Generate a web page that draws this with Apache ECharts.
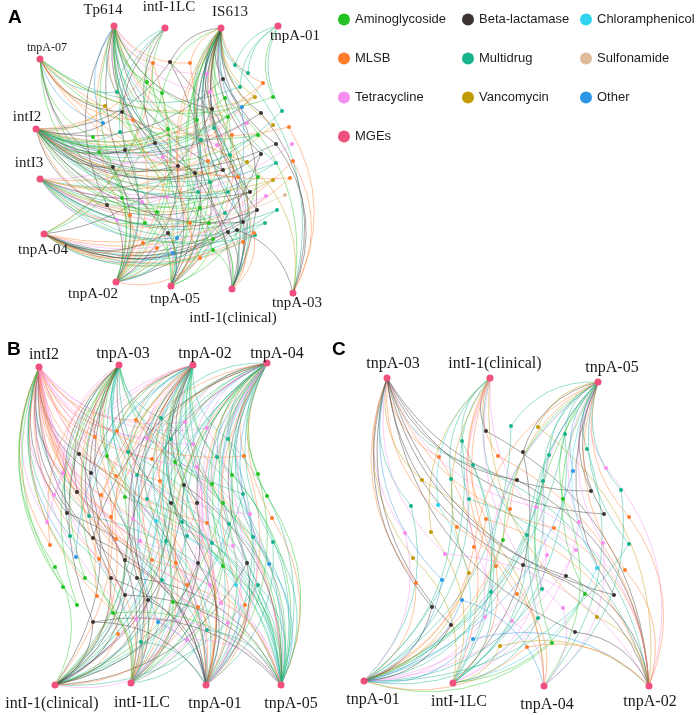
<!DOCTYPE html>
<html>
<head>
<meta charset="utf-8">
<script src="https://cdn.jsdelivr.net/npm/echarts@6/dist/echarts.min.js"></script>
<style>
html,body{margin:0;padding:0;background:#fff}
#main{width:699px;height:715px}
</style>
</head>
<body>
<div id="main"></div>
<script>
// gene / MGE types (legend order)
var types = ['Aminoglycoside','Beta-lactamase','Chloramphenicol','MLSB','Multidrug','Sulfonamide','Tetracycline','Vancomycin','Other','MGEs'];
var typeColors = ['#22c322','#3b3330','#2fd3ef','#ff7b2c','#17b38c','#dfba98','#f68cf0','#c29a04','#2c96e6','#ef507d'];

// ---- panel A ----
var mgeA = ['Tp614','intI-1LC','IS613','tnpA-01','tnpA-07','intI2','intI3','tnpA-04','tnpA-02','tnpA-05','intI-1(clinical)','tnpA-03'];
var mgeA_xy = [[114,26],[165,28],[221,28],[278,26],[40,59],[36,129],[40,179],[44,234],[116,282],[171,286],[232,289],[293,293]];
// [x, y, type, linked MGEs]
var genesA = [
  [170,62,1,[2,5,9,10]],[190,63,3,[2,0,8]],[153,63,3,[0,5,8,7]],[235,65,4,[2,3,11]],[248,73,4,[2,3]],
  [207,74,6,[2,0,9]],[223,79,1,[2,10,5]],[263,83,3,[5,2,6]],[240,87,4,[2,3,4]],[210,92,6,[0,2,8,6]],
  [225,98,0,[2,5,9,11]],[255,97,7,[5,2,4]],[273,97,0,[4,3]],[242,107,8,[2,5,9]],[212,109,1,[0,2,10,7]],
  [261,113,1,[5,2,11]],[282,111,4,[6,3]],[228,117,0,[2,0,8,5]],[247,123,6,[5,2]],[273,125,7,[6,2]],
  [289,127,3,[4,11]],[197,120,0,[0,2,9,5]],[168,129,0,[0,5,8,1]],[214,128,4,[2,5,10]],[232,135,3,[2,6,9]],
  [258,135,0,[5,4]],[276,144,1,[5,11,2]],[292,144,6,[6]],[217,145,6,[5,0,10]],[155,143,1,[0,5,9,1]],
  [125,150,1,[5,1,8]],[201,140,4,[0,2,8,5]],[230,155,4,[5,2,10]],[261,154,1,[6,2,8]],[293,161,3,[7,11]],
  [276,163,4,[6,5,2]],[247,162,7,[5,0,11]],[208,161,3,[5,2,9]],[178,166,1,[0,5,8]],[223,170,1,[5,2,10,0]],
  [195,173,1,[0,5,9]],[258,177,0,[6,2,9]],[273,180,7,[6,5]],[290,178,3,[7,4]],[238,177,3,[4,2,10]],
  [210,182,4,[5,0,9,2]],[250,192,1,[6,5,2]],[266,196,6,[7,6]],[285,195,5,[6]],[228,192,4,[5,2,10]],
  [198,192,4,[0,5,8]],[167,197,6,[5,6,9]],[107,205,1,[5,0,8]],[142,202,6,[5,4,9]],[122,198,0,[4,8]],
  [257,210,1,[6,7,2]],[277,210,4,[7,6]],[243,222,1,[7,5,2]],[265,223,4,[7,6]],[225,213,4,[6,2,10]],
  [200,208,0,[5,0,8,10]],[157,212,0,[5,4,9]],[130,215,3,[5,8]],[145,223,0,[6,0,9]],[190,223,3,[6,2,9]],
  [209,223,0,[5,0,10]],[228,232,1,[7,2,10]],[255,235,4,[7,6]],[177,238,8,[6,8]],[143,243,3,[7,0]],
  [213,239,0,[6,2,9]],[243,242,3,[7,10]],[105,106,7,[4,5,9]],[103,123,8,[4,0]],[122,112,1,[4,5,10]],
  [133,120,3,[4,0,8]],[117,92,4,[4,0,9,1]],[120,132,4,[5,1,8]],[162,93,0,[0,2,8,7]],[147,82,0,[0,1,9,7]],
  [117,220,6,[6,8]],[168,233,1,[7,0,9]],[173,253,8,[7,9]],[157,248,3,[7,8]],[213,250,0,[7,2,10]],
  [200,258,3,[8,2]],[113,167,1,[5,4,8]],[93,137,0,[4,8]],[99,152,0,[5,8,9]],[163,157,6,[0,5,10]],
  [237,230,1,[7,11]],[254,233,3,[7,10]]
];

// ---- panel B ----
var mgeB = ['intI2','tnpA-03','tnpA-02','tnpA-04','intI-1(clinical)','intI-1LC','tnpA-01','tnpA-05'];
var mgeB_xy = [[39,367],[119,365],[193,365],[267,363],[55,685],[131,683],[206,685],[281,685]];
var genesB = [
  [136,420,3,[0,2,6,7]],[161,418,4,[1,3,7,4]],[185,422,6,[0,3,5]],[207,428,6,[0,3,6,4]],[117,431,3,[0,2,5]],
  [95,437,3,[0,1,4]],[147,438,6,[0,2,7]],[171,439,4,[1,3,6,4]],[193,444,6,[0,3,5]],[228,439,4,[2,3,6,7]],
  [128,452,4,[1,2,4,7]],[79,454,1,[0,4,6]],[107,456,0,[1,2,5]],[152,459,3,[0,3,6]],[175,462,0,[2,3,4,7]],
  [197,467,6,[0,2,5,7]],[217,457,4,[2,3,7]],[244,456,3,[3,0,6]],[91,473,1,[0,2,5]],[63,473,6,[0,1]],
  [116,476,3,[0,1,6]],[137,475,4,[1,3,4,7]],[160,481,3,[0,2,5,6]],[184,485,1,[2,4,7]],[212,484,0,[3,1,6]],
  [232,475,0,[3,2,7,5]],[258,474,0,[3,6]],[77,492,1,[0,1,5]],[54,495,6,[0,2]],[101,495,3,[0,3,6]],
  [125,497,0,[1,2,4,7]],[147,499,4,[2,3,5,7]],[171,503,1,[1,4,6]],[197,503,1,[2,3,5]],[223,503,0,[3,2,4,7]],
  [243,494,4,[3,1,6,4]],[267,496,0,[3,7]],[67,513,1,[0,1,6]],[89,516,4,[0,2,7]],[111,517,3,[0,3,5]],
  [133,519,6,[0,2,6]],[156,521,2,[1,3,4,7]],[182,522,4,[2,3,5,7]],[207,523,3,[0,3,6]],[229,524,4,[2,3,4,7]],
  [250,514,6,[3,0,6]],[272,518,3,[3,7]],[47,522,6,[0,2]],[70,536,4,[0,1,5]],[93,538,1,[0,3,6]],
  [116,539,3,[0,2,4]],[140,541,6,[0,3,7]],[166,541,4,[1,2,5,6]],[187,536,4,[2,3,4,7]],[212,543,4,[1,3,5,7]],
  [233,546,6,[0,3,6]],[253,537,4,[3,2,7]],[273,542,4,[3,7,6]],[50,545,3,[0,1]],[76,557,8,[0,2]],
  [99,559,3,[0,1,5]],[125,560,1,[1,3,4,6]],[152,560,3,[0,2,7]],[176,563,3,[0,3,5]],[198,563,1,[2,4,6]],
  [223,566,0,[2,3,5,7]],[247,563,1,[3,4,6]],[269,564,8,[3,7]],[55,567,0,[0,4]],[85,578,0,[1,0,5]],
  [111,578,1,[1,4,6]],[137,578,1,[0,2,5,7]],[162,580,4,[1,3,4,6]],[187,585,3,[0,2,7]],[210,585,6,[0,3,5]],
  [236,585,2,[3,2,6]],[258,585,4,[3,7,4]],[63,587,0,[0]],[97,596,3,[0,5,2]],[125,595,1,[1,4,7]],
  [148,600,1,[2,4,6]],[173,602,0,[3,5,7]],[198,607,3,[0,4,6]],[221,603,6,[0,3,7]],[245,605,3,[3,6]],
  [77,605,0,[0,1]],[113,613,0,[1,5,7]],[158,622,8,[2,6]],[93,622,1,[1,4,6,7]],[136,619,6,[0,5,7]],
  [228,623,6,[0,3,6]],[118,634,3,[2,4]],[141,642,4,[3,5,6]],[187,640,6,[0,4,7]],[207,630,4,[2,5,7]]
];

// ---- panel C ----
var mgeC = ['tnpA-03','intI-1(clinical)','tnpA-05','tnpA-01','intI-1LC','tnpA-04','tnpA-02'];
var mgeC_xy = [[387,378],[490,378],[598,382],[364,681],[453,683],[544,686],[649,686]];
var genesC = [
  [486,431,1,[1,6]],[511,426,4,[2,3]],[538,427,7,[2,6]],[565,434,4,[2,3,4]],[587,449,4,[2,5]],
  [462,441,4,[1,3,4]],[439,457,3,[0,4]],[498,456,3,[1,6]],[523,452,1,[2,4]],[549,455,4,[2,3]],
  [473,465,4,[0,4,6]],[573,471,8,[2,3]],[606,468,6,[2,6]],[422,480,7,[0,5]],[451,479,4,[1,3]],
  [517,480,1,[0,6]],[543,481,4,[2,4,3]],[591,491,1,[0,2]],[621,490,4,[2,5]],[469,499,4,[1,3,6]],
  [563,499,0,[2,5]],[411,506,4,[0,3]],[438,505,2,[1,4]],[510,509,3,[2,3]],[536,507,6,[0,6]],
  [604,514,1,[0,2]],[629,517,3,[2,6]],[486,519,3,[1,6,3]],[579,522,6,[2,4]],[405,533,6,[0,3]],
  [431,532,7,[1,4]],[457,527,3,[0,5]],[503,540,0,[2,3]],[527,535,4,[1,4,3]],[554,528,3,[0,6]],
  [603,543,6,[2,5]],[629,544,4,[3,2]],[445,554,6,[0,6]],[474,547,3,[2,3]],[576,550,6,[1,3]],
  [413,558,7,[0,4]],[523,565,1,[0,6]],[496,566,3,[1,4]],[547,555,6,[2,3,4]],[597,568,2,[2,4]],
  [625,570,3,[6,2]],[469,573,7,[1,3]],[566,576,1,[0,6]],[442,580,8,[0,3]],[416,583,3,[0,3]],
  [491,592,4,[2,4,3]],[517,594,3,[1,5]],[542,589,4,[2,3]],[585,594,0,[2,4]],[614,595,1,[0,2]],
  [462,600,8,[3,5]],[563,608,6,[1,5]],[432,607,1,[0,3]],[485,617,6,[2,3]],[512,621,6,[1,5]],
  [538,618,4,[2,3,4]],[597,617,7,[6,1]],[451,625,1,[0,3]],[575,632,1,[0,6]],[473,639,8,[3,6]],
  [552,643,0,[2,3]],[500,646,7,[4,6]],[527,647,3,[3,6]]
];

// label placement of the MGE names (style only)
var labA = [['top',-11,0],['top',4,-5],['top',9,0],['bottom',17,-6],['top',7,3],['top',-9,4],['top',-11,0],['bottom',-1,0],['bottom',-23,-4],['bottom',4,-3],['bottom',1,13],['bottom',4,-6]];
var labB = [['top',5,4],['top',4,5],['top',12,5],['top',10,7],['bottom',-3,2],['bottom',11,3],['bottom',9,2],['bottom',10,2]];
var labC = [['top',6,2],['top',5,2],['top',14,2],['bottom',9,2],['bottom',6,2],['bottom',3,2],['bottom',1,-1]];

var categories = types.map(function (t, i) {
  return { name: t, itemStyle: { color: typeColors[i] } };
});

function buildGraph(mges, xy, genes, labs, fs) {
  var nodes = [], links = [];
  mges.forEach(function (m, i) {
    nodes.push({
      name: m, value: xy[i], category: 9, symbolSize: 7,
      label: {
        show: true, position: labs[i][0], offset: [labs[i][1], labs[i][2]],
        fontFamily: 'Liberation Serif', fontSize: (m === 'tnpA-07' ? 12 : fs), color: '#1a1a1a'
      }
    });
  });
  genes.forEach(function (g, j) {
    var id = mges.length + j;
    nodes.push({ name: 'g' + j, value: [g[0], g[1]], category: g[2], symbolSize: 4 });
    g[3].forEach(function (t) {
      links.push({ source: id, target: t });
    });
  });
  return {
    type: 'graph', coordinateSystem: 'cartesian2d', xAxisIndex: 0, yAxisIndex: 0,
    data: nodes, links: links, categories: categories,
    lineStyle: { color: 'source', width: 0.8, opacity: 0.55, curveness: 0.28 },
    label: { show: false }, silent: true, animation: false
  };
}

var legendBase = {
  orient: 'vertical', icon: 'circle', itemWidth: 12, itemHeight: 12, itemGap: 26,
  padding: 0, textStyle: { fontFamily: 'Liberation Sans', fontSize: 13, color: '#1e1e1e' },
  selectedMode: false, top: 13
};

var option = {
  backgroundColor: '#fff',
  animation: false,
  title: [
    { text: 'A', left: 3, top: 3, textStyle: { fontFamily: 'Liberation Sans', fontWeight: 'bold', fontSize: 19, color: '#000' } },
    { text: 'B', left: 2, top: 335, textStyle: { fontFamily: 'Liberation Sans', fontWeight: 'bold', fontSize: 19, color: '#000' } },
    { text: 'C', left: 327, top: 335, textStyle: { fontFamily: 'Liberation Sans', fontWeight: 'bold', fontSize: 19, color: '#000' } }
  ],
  legend: [
    Object.assign({}, legendBase, { left: 338, data: ['Aminoglycoside', 'MLSB', 'Tetracycline', 'MGEs'] }),
    Object.assign({}, legendBase, { left: 462, data: ['Beta-lactamase', 'Multidrug', 'Vancomycin'] }),
    Object.assign({}, legendBase, { left: 580, data: ['Chloramphenicol', 'Sulfonamide', 'Other'] })
  ],
  grid: { left: 0, right: 0, top: 0, bottom: 0 },
  xAxis: { type: 'value', min: 0, max: 699, show: false },
  yAxis: { type: 'value', min: 0, max: 715, inverse: true, show: false },
  series: [
    buildGraph(mgeA, mgeA_xy, genesA, labA, 15),
    buildGraph(mgeB, mgeB_xy, genesB, labB, 16),
    buildGraph(mgeC, mgeC_xy, genesC, labC, 16)
  ]
};

var chart = echarts.init(document.getElementById('main'));
chart.setOption(option);
</script>
</body>
</html>
